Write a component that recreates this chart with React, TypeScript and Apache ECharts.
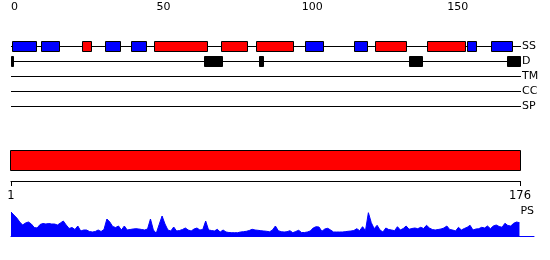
import React, { useEffect, useRef } from "react";
import * as echarts from "echarts";

const FONT = "DejaVu Sans";

// track names (top panel)
const TRACKS = ["SS", "D", "TM", "CC", "SP"];
// secondary structure segments on the 0-based top axis [start, end]
const SS_RED = [
  [24.5, 27.7],
  [49.3, 67.6],
  [72.3, 81.2],
  [84.3, 97.0],
  [125.2, 135.9],
  [143.1, 156.0],
];
const SS_BLUE = [
  [0.45, 8.8],
  [10.4, 16.7],
  [32.4, 37.6],
  [41.4, 46.5],
  [101.1, 107.2],
  [118.0, 122.3],
  [156.9, 160.1],
  [165.1, 172.2],
];
// disorder segments
const DISORDER = [
  [0, 0.6],
  [66.3, 72.4],
  [85.3, 86.6],
  [136.8, 141.2],
  [170.7, 175.2],
];
const TOP_MAX = 175;
const TOP_TICKS = [0, 10, 20, 30, 40, 50, 60, 70, 80, 90, 100, 110, 120, 130, 140, 150, 160, 170];
const TOP_LABELS = [0, 50, 100, 150];

// sequence / domain panel
const SEQ_START = 1;
const SEQ_END = 176;
const DOMAINS = [[1, 176]];
const SEQ_LABELS = [1, 176];

// PS profile, one value per residue 1..176
const PS = [
  24, 21, 18, 14, 11, 13, 14, 12, 8.5, 8,
  11.5, 12.5, 12, 12.5, 12, 12, 11, 13, 15, 11,
  7.5, 8.5, 6.5, 10, 5, 6, 6, 4.5, 4, 4.5,
  6, 4.5, 6.5, 17, 14, 9.5, 8.5, 10, 6, 10,
  6, 6.5, 7, 7.3, 7, 6.5, 6, 7, 17, 6,
  2.7, 11.5, 20, 12, 6, 5, 9, 5, 5.5, 6.5,
  8, 6, 5, 7, 8, 6, 6.5, 15, 6, 5.5,
  5, 6.7, 4, 6, 4, 3.5, 3.3, 3.3, 3.3, 4,
  4.3, 4.7, 5.5, 6.7, 6, 5.7, 5.3, 5, 4.7, 4.2,
  6, 10, 5.3, 4.3, 4, 4.3, 5.3, 3.3, 4.5, 5.7,
  3.5, 3.5, 4, 5, 8, 9.3, 9, 4.7, 7, 7.7,
  6, 4, 4, 4, 4, 4.3, 4.7, 5, 5.5, 7.3,
  5.3, 9.3, 5.3, 23.3, 13.3, 7.3, 10.7, 6, 4, 8,
  6.5, 6, 5.3, 9.3, 6, 7.5, 10, 6.7, 7.5, 8,
  7.3, 8.7, 7.5, 10.7, 8, 6.5, 6, 6.5, 7, 8,
  10, 6.5, 6, 5, 8.7, 6, 7.5, 8.7, 10.7, 6,
  7, 7.3, 8.7, 8, 10, 7.3, 10, 11, 9.5, 8.7,
  12.7, 10.5, 10, 12.7, 14, 13.3,
];

function boxSeries(segs: number[][], track: number, fill: string, h: number) {
  return {
    type: "custom",
    xAxisIndex: 0,
    yAxisIndex: 0,
    silent: true,
    z: 3,
    data: segs.map((s) => [s[0], s[1], track]),
    renderItem: (params: any, api: any) => {
      const a = api.coord([api.value(0), api.value(2)]);
      const b = api.coord([api.value(1), api.value(2)]);
      return {
        type: "rect",
        shape: { x: Math.round(a[0]) + 0.5, y: Math.round(a[1] - h / 2) + 0.5, width: Math.max(1, Math.round(b[0] - a[0])), height: h },
        style: { fill, stroke: "#000", lineWidth: 1 },
      };
    },
  };
}

export default function App() {
  const ref = useRef<HTMLDivElement>(null);
  useEffect(() => {
    if (!ref.current) return;
    const chart = echarts.init(ref.current, undefined, { renderer: "svg" });
    const option: any = {
      animation: false,
      textStyle: { fontFamily: FONT, color: "#000" },
      grid: [
        { left: 11, width: 509, top: 38, height: 75, containLabel: false, outerBoundsMode: "none" },
        { left: 11, width: 509, top: 150, height: 31, containLabel: false, outerBoundsMode: "none" },
        { left: 11, width: 523, top: 211, height: 25, containLabel: false, outerBoundsMode: "none" },
      ],
      xAxis: [
        {
          gridIndex: 0,
          type: "value",
          position: "top",
          offset: 24,
          min: 0,
          max: TOP_MAX,
          axisLine: { lineStyle: { color: "#000", width: 1 } },
          axisTick: { customValues: TOP_TICKS, length: 4, lineStyle: { color: "#000" } },
          axisLabel: { customValues: TOP_LABELS, align: "left", margin: 2, fontSize: 11, lineHeight: 11, color: "#000", fontFamily: FONT },
          splitLine: { show: false },
        },
        {
          gridIndex: 1,
          type: "value",
          position: "bottom",
          min: SEQ_START,
          max: SEQ_END,
          axisLine: { lineStyle: { color: "#000", width: 1 } },
          axisTick: { customValues: SEQ_LABELS, length: 5, lineStyle: { color: "#000" } },
          axisLabel: { customValues: SEQ_LABELS, margin: 8, fontSize: 11.5, color: "#000", fontFamily: FONT },
          splitLine: { show: false },
        },
        {
          gridIndex: 2,
          type: "value",
          min: 1,
          max: 181,
          axisLine: { lineStyle: { color: "#0000ff", width: 1 } },
          axisTick: { show: false },
          axisLabel: { show: false },
          splitLine: { show: false },
        },
      ],
      yAxis: [
        {
          gridIndex: 0,
          type: "category",
          data: TRACKS,
          inverse: true,
          position: "right",
          axisLine: { show: false },
          axisTick: { show: false },
          axisLabel: { margin: 2, align: "left", fontSize: 11, color: "#000", fontFamily: FONT },
          splitLine: { show: false },
        },
        { gridIndex: 1, type: "value", min: 0, max: 1, show: false },
        {
          gridIndex: 2,
          type: "value",
          min: 0,
          max: 25,
          position: "right",
          name: "PS",
          nameLocation: "end",
          nameGap: 1,
          nameTextStyle: { align: "right", verticalAlign: "middle", fontSize: 11, color: "#000", fontFamily: FONT },
          axisLine: { show: false },
          axisTick: { show: false },
          axisLabel: { show: false },
          splitLine: { show: false },
        },
      ],
      series: [
        {
          type: "custom",
          xAxisIndex: 0,
          yAxisIndex: 0,
          silent: true,
          z: 2,
          data: TRACKS.map((_, i) => [0, TOP_MAX, i]),
          renderItem: (params: any, api: any) => {
            const a = api.coord([api.value(0), api.value(2)]);
            const b = api.coord([api.value(1), api.value(2)]);
            const y = Math.round(a[1]) + 0.5;
            return {
              type: "line",
              shape: { x1: a[0], y1: y, x2: b[0] + 1, y2: y },
              style: { stroke: "#000", lineWidth: 1 },
            };
          },
        },
        boxSeries(SS_BLUE, 0, "#0000ff", 10),
        boxSeries(SS_RED, 0, "#ff0000", 10),
        boxSeries(DISORDER, 1, "#000000", 10),
        {
          type: "custom",
          xAxisIndex: 1,
          yAxisIndex: 1,
          silent: true,
          data: DOMAINS.map((d) => [d[0], d[1]]),
          renderItem: (params: any, api: any) => {
            const a = api.coord([api.value(0), 0]);
            const b = api.coord([api.value(1), 0]);
            const cs = params.coordSys;
            return {
              type: "rect",
              shape: { x: Math.round(a[0]) - 0.5, y: cs.y + 0.5, width: Math.round(b[0] - a[0]) + 1, height: 20 },
              style: { fill: "#ff0000", stroke: "#000", lineWidth: 1 },
            };
          },
        },
        {
          type: "line",
          xAxisIndex: 2,
          yAxisIndex: 2,
          silent: true,
          showSymbol: false,
          symbol: "none",
          data: PS.map((v, i) => [i + 1, v]),
          lineStyle: { color: "#0000ff", width: 1 },
          areaStyle: { color: "#0000ff", opacity: 1 },
        },
      ],
    };
    chart.setOption(option);
    return () => chart.dispose();
  }, []);
  return <div ref={ref} style={{ position: "fixed", left: 0, top: 0, width: 550, height: 260 }} />;
}
